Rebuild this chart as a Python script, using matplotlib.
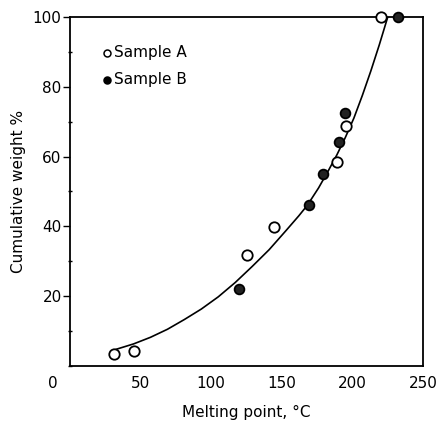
import numpy as np
import matplotlib.pyplot as plt
from matplotlib.ticker import MultipleLocator
import matplotlib.transforms as mtransforms

# Sample A (open circles)
a_temp = [31, 45, 125, 144.5, 189, 195.5, 220.5]
a_weight = [3.3, 4.3, 31.7, 39.7, 58.4, 68.8, 100]

# Sample B (filled circles)
b_temp = [120, 169, 179.5, 190.5, 195, 232]
b_weight = [22.1, 46.1, 55.0, 64.3, 72.4, 100]

# smooth curve drawn through the data
curve_temp = [33, 45, 57, 69, 81, 93, 105, 117, 129, 141, 153, 162, 168,
              176, 183, 189, 195, 201, 207, 213, 219, 225]
curve_weight = [4.8, 6.3, 8.2, 10.5, 13.3, 16.3, 19.8, 23.9, 28.5, 33.3, 38.8,
                43.0, 46.0, 51.0, 56.0, 60.5, 65.5, 71.0, 77.5, 84.5, 92.0, 100]

plt.rcParams['font.family'] = 'DejaVu Sans'

fig = plt.figure(figsize=(4.43, 4.24), dpi=100)
ax = fig.add_axes([0.158, 0.137, 0.797, 0.823])

ax.plot(curve_temp, curve_weight, color='black', lw=1.2)
ax.plot(a_temp, a_weight, 'o', ms=7.5, mfc='white', mec='black', mew=1.3,
        clip_on=False, zorder=3)
ax.plot(b_temp, b_weight, 'o', ms=7, mfc='#222222', mec='black', mew=1.3,
        clip_on=False, zorder=3)

ax.set_xlim(0, 250)
ax.set_ylim(0, 100)
ax.set_xticks([0, 50, 100, 150, 200, 250])
ax.set_yticks([20, 40, 60, 80, 100])
ax.yaxis.set_minor_locator(MultipleLocator(10))
ax.tick_params(axis='x', length=0, pad=7, labelsize=11)
ax.tick_params(axis='y', which='major', length=5, width=1, pad=1, labelsize=11)
ax.tick_params(axis='y', which='minor', length=3, width=1, direction='inout')

# the 0 label sits left of the axis in the original
lab0 = ax.get_xticklabels()[0]
lab0.set_transform(lab0.get_transform() +
                   mtransforms.ScaledTranslation(-0.17, 0, fig.dpi_scale_trans))

for s in ax.spines.values():
    s.set_linewidth(1.3)

ax.set_xlabel('Melting point, °C', fontsize=11, labelpad=10)
ax.set_ylabel('Cumulative weight %', fontsize=11, labelpad=5)

# legend drawn as text + markers
ax.plot([26], [89.7], 'o', ms=5, mfc='white', mec='black', mew=1.1)
ax.plot([26], [82.0], 'o', ms=5, mfc='black', mec='black', mew=1.1)
ax.text(31, 89.7, 'Sample A', fontsize=11, va='center')
ax.text(31, 82.0, 'Sample B', fontsize=11, va='center')

fig.savefig('out.png', dpi=100)
